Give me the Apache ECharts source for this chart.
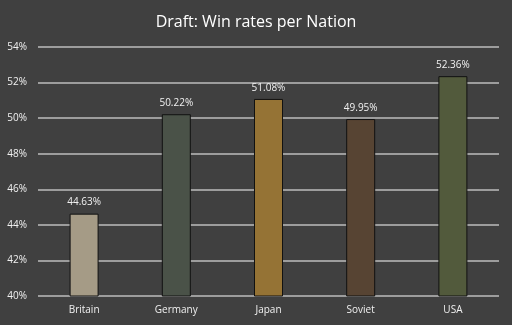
<!DOCTYPE html>
<html><head><meta charset="utf-8">
<script src="https://cdn.jsdelivr.net/npm/echarts@6/dist/echarts.min.js"></script>
<style>html,body{margin:0;padding:0;background:#404040;}#c{width:512px;height:325px;}</style>
</head><body><div id="c"></div>
<script>
const categories = ["Britain", "Germany", "Japan", "Soviet", "USA"];
const winRates = [44.63, 50.22, 51.08, 49.95, 52.36];
const barColors = ["#a59b86", "#4a5248", "#957335", "#574433", "#525a3c"];
const titleText = "Draft: Win rates per Nation";

const chart = echarts.init(document.getElementById('c'), null, {renderer: 'canvas'});
chart.setOption({
  backgroundColor: '#404040',
  animation: false,
  title: {
    text: titleText, left: 'center', top: 9,
    textStyle: {color: '#ffffff', fontFamily: 'Open Sans', fontWeight: 'normal', fontSize: 16}
  },
  grid: {left: 38, right: 13, top: 47, bottom: 29},
  xAxis: {
    type: 'category', data: categories,
    axisLine: {show: false}, axisTick: {show: false},
    axisLabel: {color: '#f0f0f0', fontFamily: 'Open Sans', fontSize: 10, margin: 9}
  },
  yAxis: {
    type: 'value', min: 40, max: 54, interval: 2,
    axisLine: {show: false}, axisTick: {show: false},
    axisLabel: {color: '#f0f0f0', fontFamily: 'Open Sans', fontSize: 10, margin: 11, formatter: v => v + '%'},
    splitLine: {lineStyle: {color: '#bdbdbd', width: 1.5}}
  },
  series: [{
    type: 'bar', barWidth: 29,
    data: winRates.map((v, i) => ({value: v, itemStyle: {color: barColors[i]}})),
    itemStyle: {borderColor: '#111', borderWidth: 1},
    label: {show: true, position: 'top', distance: 6, color: '#f0f0f0', fontFamily: 'Open Sans', fontSize: 10,
      formatter: p => p.value.toFixed(2) + '%'}
  }]
});
</script></body></html>
